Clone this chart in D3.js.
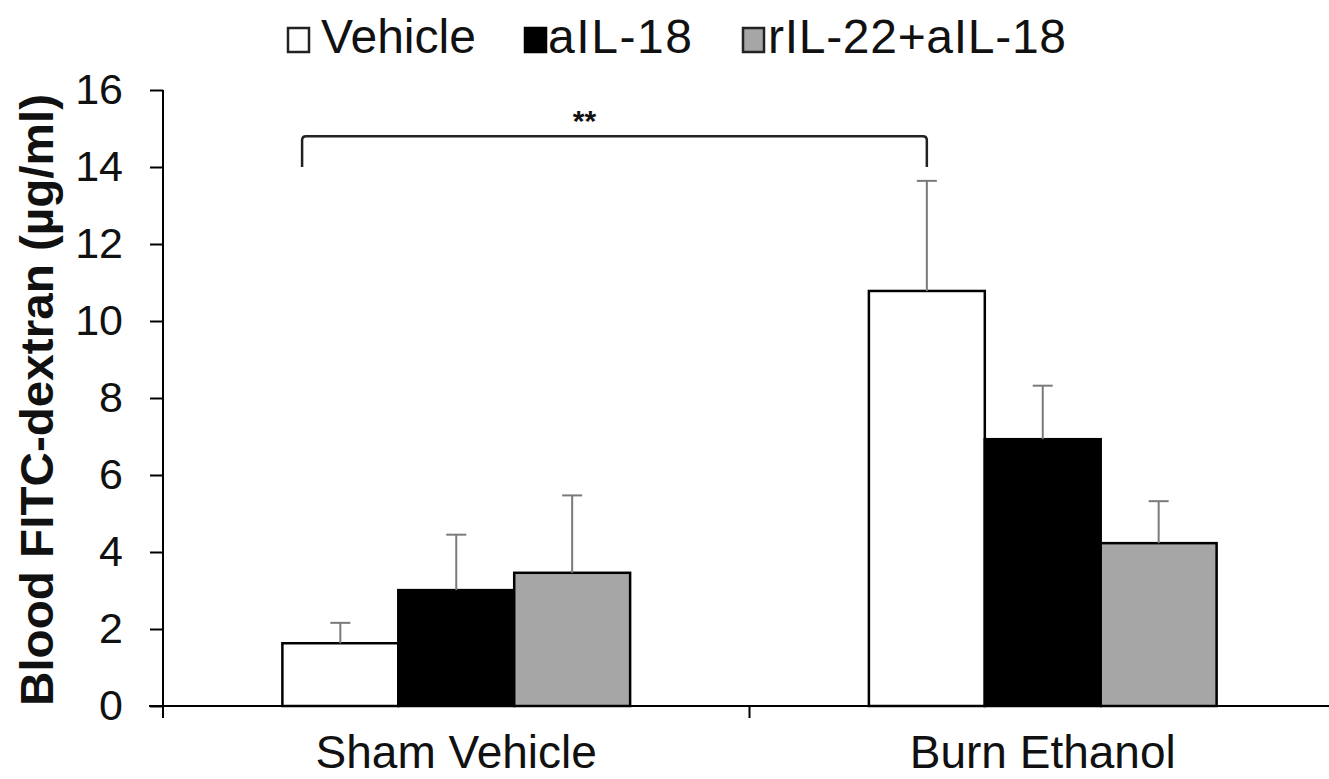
<!DOCTYPE html>
<html>
<head>
<meta charset="utf-8">
<script src="https://cdn.jsdelivr.net/npm/d3@7"></script>
<style>
  html, body { margin: 0; padding: 0; background: #fff; }
  text { font-family: "Liberation Sans", Arial, sans-serif; fill: #111; }
</style>
</head>
<body>
<svg id="chart" width="1329" height="779"></svg>
<script>
// ---- data ----
const categories = ["Sham Vehicle", "Burn Ethanol"];
const seriesNames = ["Vehicle", "aIL-18", "rIL-22+aIL-18"];
const vehicleValues = [1.63, 10.78];
const aIL18Values = [3.01, 6.93];
const rIL22Values = [3.46, 4.23];
const vehicleErrors = [0.53, 2.86];
const aIL18Errors = [1.44, 1.39];
const rIL22Errors = [2.01, 1.09];
const yTicks = [0, 2, 4, 6, 8, 10, 12, 14, 16];
const yTitle = "Blood FITC-dextran (\u00b5g/ml)";
const sigLabel = "**";

const seriesValues = [vehicleValues, aIL18Values, rIL22Values];
const seriesErrors = [vehicleErrors, aIL18Errors, rIL22Errors];
const fills = ["#ffffff", "#000000", "#a6a6a6"];

const svg = d3.select("#chart");

const y = d3.scaleLinear().domain([0, 16]).range([706, 90]);
const x0 = d3.scaleBand().domain(categories).range([163, 1336]).paddingInner(0).paddingOuter(0);
const x1 = d3.scaleBand().domain(seriesNames).range([0, x0.bandwidth()]).paddingInner(0).paddingOuter(1.03);

const rows = [];
categories.forEach((c, ci) => {
  seriesNames.forEach((s, si) => {
    rows.push({cat: c, ser: s, si, v: seriesValues[si][ci], e: seriesErrors[si][ci]});
  });
});

// bars
svg.append("g").selectAll("rect").data(rows).join("rect")
  .attr("x", d => x0(d.cat) + x1(d.ser))
  .attr("y", d => y(d.v))
  .attr("width", x1.bandwidth())
  .attr("height", d => y(0) - y(d.v))
  .attr("fill", d => fills[d.si])
  .attr("stroke", "#000")
  .attr("stroke-width", 2.5);

// error bars (upper only)
const eg = svg.append("g").attr("stroke", "#7a7a7a").attr("stroke-width", 2);
eg.selectAll("line.v").data(rows).join("line").attr("class", "v")
  .attr("x1", d => x0(d.cat) + x1(d.ser) + x1.bandwidth() / 2)
  .attr("x2", d => x0(d.cat) + x1(d.ser) + x1.bandwidth() / 2)
  .attr("y1", d => y(d.v))
  .attr("y2", d => y(d.v + d.e));
eg.selectAll("line.c").data(rows).join("line").attr("class", "c")
  .attr("x1", d => x0(d.cat) + x1(d.ser) + x1.bandwidth() / 2 - 10)
  .attr("x2", d => x0(d.cat) + x1(d.ser) + x1.bandwidth() / 2 + 10)
  .attr("y1", d => y(d.v + d.e))
  .attr("y2", d => y(d.v + d.e));

// y axis
const yAxis = d3.axisLeft(y).tickValues(yTicks).tickSize(13).tickPadding(27).tickSizeOuter(0);
const gy = svg.append("g").attr("transform", "translate(163,0)").call(yAxis);
gy.select(".domain").remove();
gy.selectAll(".tick line").attr("stroke", "#000").attr("stroke-width", 2);
gy.selectAll(".tick text").attr("font-size", 43).attr("font-family", "Liberation Sans, Arial, sans-serif").attr("fill", "#111");
svg.append("line").attr("x1", 163).attr("x2", 163).attr("y1", y(16)).attr("y2", y(0) + 12)
  .attr("stroke", "#000").attr("stroke-width", 2);

// x axis
const xAxis = d3.axisBottom(x0).tickSize(0).tickPadding(0);
const gx = svg.append("g").attr("transform", `translate(0,${y(0)})`).call(xAxis);
gx.select(".domain").remove();
gx.selectAll(".tick text").attr("font-size", 46).attr("dy", 62).attr("dominant-baseline", "auto")
  .attr("font-family", "Liberation Sans, Arial, sans-serif").attr("fill", "#111");
svg.append("line").attr("x1", 149).attr("x2", 1336).attr("y1", y(0)).attr("y2", y(0))
  .attr("stroke", "#000").attr("stroke-width", 2);
// category boundary tick
svg.append("line").attr("x1", x0(categories[1])).attr("x2", x0(categories[1]))
  .attr("y1", y(0)).attr("y2", y(0) + 12).attr("stroke", "#000").attr("stroke-width", 2);

// y title
svg.append("text")
  .attr("transform", `translate(53,${(y(0) + y(16)) / 2 + 2}) rotate(-90)`)
  .attr("text-anchor", "middle")
  .attr("font-size", 46).attr("font-weight", "bold")
  .attr("textLength", 612).attr("lengthAdjust", "spacingAndGlyphs")
  .text(yTitle);

// significance bracket
const bw = x1.bandwidth();
const bxL = x0(categories[0]) + x1(seriesNames[0]) + bw * 0.17;
const bxR = x0(categories[1]) + x1(seriesNames[0]) + bw * 0.5;
const byTop = y(14.8), byEnd = y(14.0);
svg.append("path")
  .attr("d", `M${bxL},${byEnd} L${bxL},${byTop + 4} Q${bxL},${byTop} ${bxL + 4},${byTop} L${bxR - 4},${byTop} Q${bxR},${byTop} ${bxR},${byTop + 4} L${bxR},${byEnd}`)
  .attr("fill", "none").attr("stroke", "#222").attr("stroke-width", 2.5);
svg.append("text").attr("x", (bxL + bxR) / 2 - 30).attr("y", 131)
  .attr("text-anchor", "middle").attr("font-size", 30).attr("font-weight", "bold")
  .text(sigLabel);

// legend
const legendItems = [
  {name: seriesNames[0], sx: 288, tx: 321, len: 155},
  {name: seriesNames[1], sx: 525, tx: 548, len: 144},
  {name: seriesNames[2], sx: 743, tx: 768, len: 298}
];
const lg = svg.append("g");
legendItems.forEach((it, i) => {
  lg.append("rect").attr("x", it.sx).attr("y", 28).attr("width", 21).attr("height", 24)
    .attr("fill", fills[i]).attr("stroke", i === 1 ? "#000" : "#222").attr("stroke-width", 2.5);
  lg.append("text").attr("x", it.tx).attr("y", 53).attr("font-size", 48)
    .attr("textLength", it.len).attr("lengthAdjust", "spacing").text(it.name);
});
</script>
</body>
</html>
